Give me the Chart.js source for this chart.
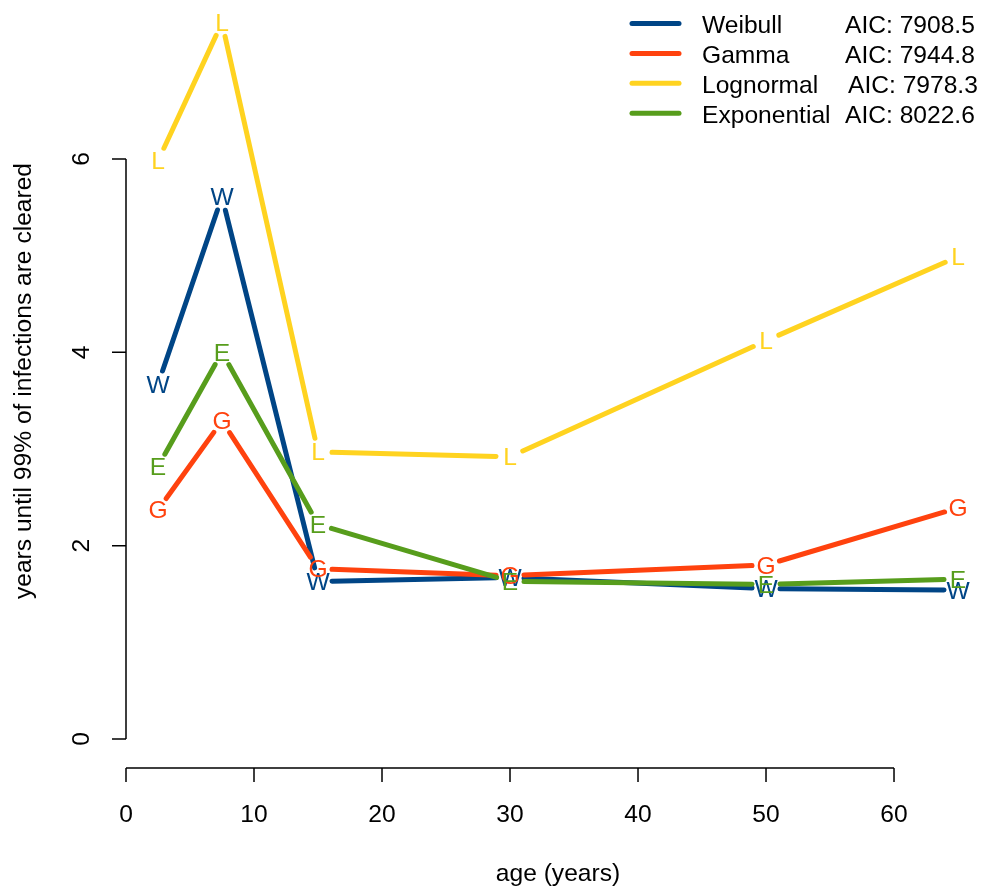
<!DOCTYPE html>
<html>
<head>
<meta charset="utf-8">
<script src="https://cdn.jsdelivr.net/npm/chart.js@4.4.1/dist/chart.umd.min.js"></script>
<style>
  html, body { margin: 0; padding: 0; background: #ffffff; overflow: hidden; }
  canvas { display: block; }
</style>
</head>
<body>
<canvas id="chart" width="984" height="891"></canvas>
<script>
// Age groups (years) and the fitted time until 99% of infections clear, per model
const ages        = [2.5, 7.5, 15, 30, 50, 65];
const weibull     = [3.67, 5.61, 1.63, 1.67, 1.555, 1.54];
const gamma       = [2.37, 3.29, 1.76, 1.69, 1.80, 2.39];
const lognormal   = [5.98, 7.41, 2.97, 2.92, 4.12, 4.99];
const exponential = [2.82, 4.00, 2.22, 1.63, 1.60, 1.655];

const modelNames   = ['Weibull', 'Gamma', 'Lognormal', 'Exponential'];
const modelLetters = ['W', 'G', 'L', 'E'];
const modelAIC     = ['7908.5', '7944.8', '7978.3', '8022.6'];
const modelColors  = ['#004586', '#ff420e', '#ffd320', '#579d1c'];

const xTicks = [0, 10, 20, 30, 40, 50, 60];
const yTicks = [0, 2, 4, 6];
const xTitle = 'age (years)';
const yTitle = 'years until 99% of infections are cleared';

const FONT = '24.6px "Liberation Sans", Arial, Helvetica, sans-serif';
const seriesValues = [weibull, gamma, lognormal, exponential];

const datasets = seriesValues.map((vals, i) => ({
  label: modelNames[i],
  data: ages.map((a, j) => ({ x: a, y: vals[j] })),
  borderColor: modelColors[i],
  backgroundColor: modelColors[i],
  showLine: false,
  pointRadius: 0,
  pointHoverRadius: 0
}));

// Draws base-graphics style output: lines broken around letter markers,
// detached axes with outward ticks, rotated y labels and a boxless legend.
const basePlot = {
  id: 'basePlot',
  beforeDraw(chart) {
    const ctx = chart.ctx;
    ctx.save();
    ctx.fillStyle = '#ffffff';
    ctx.fillRect(0, 0, chart.width, chart.height);
    ctx.restore();
  },
  afterDatasetsDraw(chart) {
    const ctx = chart.ctx;
    const xs = chart.scales.x, ys = chart.scales.y;
    const area = chart.chartArea;
    const gap = 14;

    ctx.save();
    ctx.font = FONT;

    // series: gapped segments followed by letter markers
    chart.data.datasets.forEach((ds, i) => {
      const pts = chart.getDatasetMeta(i).data;
      ctx.strokeStyle = modelColors[i];
      ctx.lineWidth = 5;
      ctx.lineCap = 'round';
      for (let j = 0; j < pts.length - 1; j++) {
        const p = pts[j], q = pts[j + 1];
        const dx = q.x - p.x, dy = q.y - p.y;
        const d = Math.hypot(dx, dy);
        if (d <= 2 * gap) continue;
        const ux = dx / d, uy = dy / d;
        ctx.beginPath();
        ctx.moveTo(p.x + ux * gap, p.y + uy * gap);
        ctx.lineTo(q.x - ux * gap, q.y - uy * gap);
        ctx.stroke();
      }
      ctx.fillStyle = modelColors[i];
      ctx.textAlign = 'center';
      ctx.textBaseline = 'alphabetic';
      const letter = modelLetters[i];
      const m = ctx.measureText(letter);
      const off = (m.actualBoundingBoxAscent - m.actualBoundingBoxDescent) / 2;
      pts.forEach(p => ctx.fillText(letter, p.x, p.y + off));
    });

    // axes
    ctx.strokeStyle = '#000000';
    ctx.fillStyle = '#000000';
    ctx.lineWidth = 1.5;
    ctx.lineCap = 'butt';
    const tickLen = 14;

    const axY = area.bottom;
    ctx.beginPath();
    ctx.moveTo(xs.getPixelForValue(xTicks[0]), axY);
    ctx.lineTo(xs.getPixelForValue(xTicks[xTicks.length - 1]), axY);
    xTicks.forEach(t => {
      const px = xs.getPixelForValue(t);
      ctx.moveTo(px, axY);
      ctx.lineTo(px, axY + tickLen);
    });
    ctx.stroke();

    ctx.textAlign = 'center';
    ctx.textBaseline = 'alphabetic';
    xTicks.forEach(t => ctx.fillText(String(t), xs.getPixelForValue(t), 822));
    ctx.fillText(xTitle, 558, 881);

    const axX = area.left;
    ctx.beginPath();
    ctx.moveTo(axX, ys.getPixelForValue(yTicks[0]));
    ctx.lineTo(axX, ys.getPixelForValue(yTicks[yTicks.length - 1]));
    yTicks.forEach(t => {
      const py = ys.getPixelForValue(t);
      ctx.moveTo(axX, py);
      ctx.lineTo(axX - tickLen, py);
    });
    ctx.stroke();

    yTicks.forEach(t => {
      ctx.save();
      ctx.translate(88.5, ys.getPixelForValue(t));
      ctx.rotate(-Math.PI / 2);
      ctx.fillText(String(t), 0, 0);
      ctx.restore();
    });
    ctx.save();
    ctx.translate(31, 381);
    ctx.rotate(-Math.PI / 2);
    ctx.fillText(yTitle, 0, 0);
    ctx.restore();

    // legend
    const legY0 = 23.5, legDy = 29.9;
    ctx.textAlign = 'left';
    modelNames.forEach((name, i) => {
      const y = legY0 + i * legDy;
      ctx.strokeStyle = modelColors[i];
      ctx.lineWidth = 5;
      ctx.lineCap = 'round';
      ctx.beginPath();
      ctx.moveTo(632, y);
      ctx.lineTo(679, y);
      ctx.stroke();
      ctx.fillStyle = '#000000';
      const m = ctx.measureText('A');
      const base = y + m.actualBoundingBoxAscent / 2 + 1;
      ctx.fillText(name, 702, base);
      ctx.fillText('AIC: ' + modelAIC[i], i === 2 ? 848 : 845, base);
    });

    ctx.restore();
  }
};

new Chart(document.getElementById('chart'), {
  type: 'scatter',
  data: { datasets },
  options: {
    responsive: false,
    animation: false,
    devicePixelRatio: 1,
    layout: { padding: { left: 126, right: 0, top: 0, bottom: 123 } },
    plugins: { legend: { display: false }, tooltip: { enabled: false } },
    events: [],
    scales: {
      x: { type: 'linear', min: 0, max: 67.03, display: false },
      y: { type: 'linear', min: -0.3, max: 7.645, display: false }
    }
  },
  plugins: [basePlot]
});
</script>
</body>
</html>
